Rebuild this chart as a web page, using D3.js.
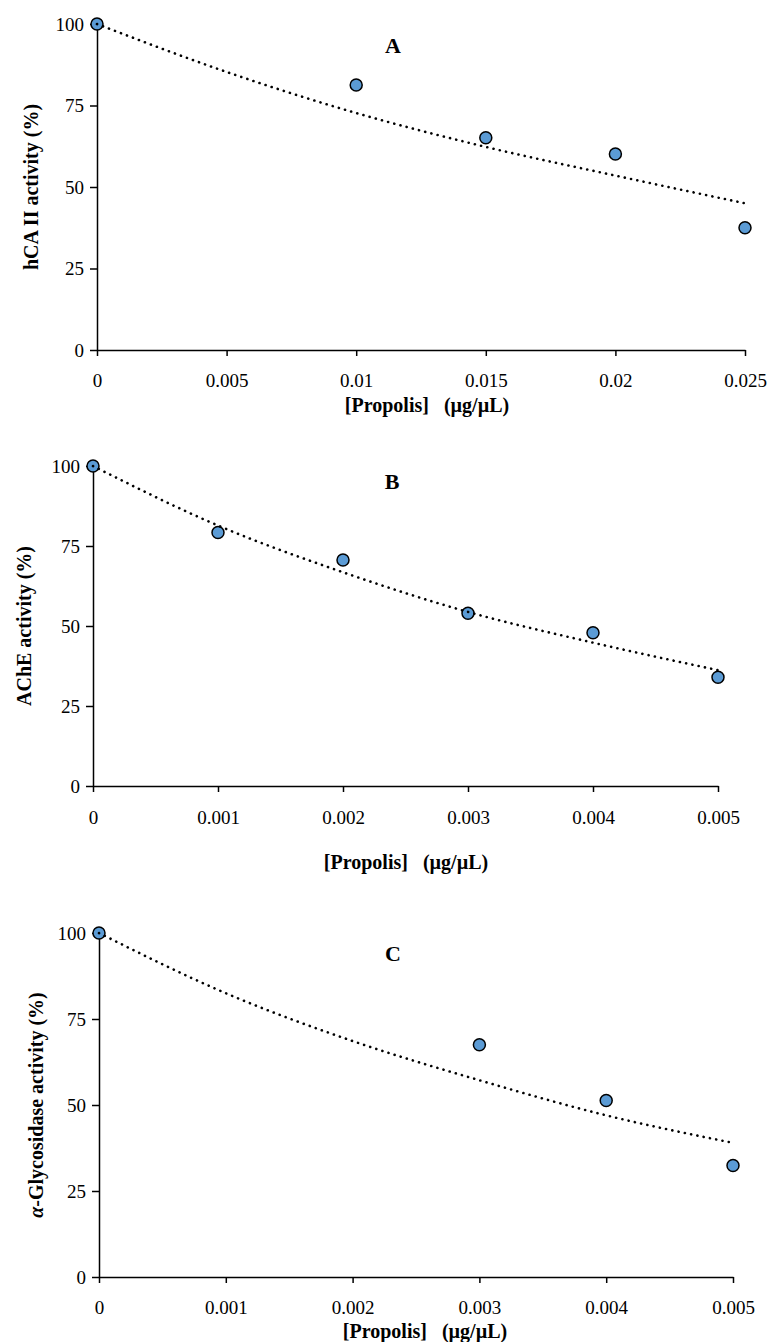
<!DOCTYPE html>
<html>
<head>
<meta charset="utf-8">
<script src="https://cdn.jsdelivr.net/npm/d3@7"></script>
<style>
  body { margin: 0; background: #fff; }
  svg { display: block; }
  text { font-family: 'Liberation Serif', 'Times New Roman', serif; fill: #000; }
</style>
</head>
<body>
<svg id="chart" width="768" height="1342"></svg>
<script>
// shared y axis
const yTicks = [0, 25, 50, 75, 100]
const yTickLabels = ['0', '25', '50', '75', '100']

// panel A: hCA II
const concA = [0, 0.01, 0.015, 0.02, 0.025]
const activityA = [100, 81.3, 65.1, 60.1, 37.5]
const trendConcA = [0, 0.005, 0.01, 0.015, 0.02, 0.025]
const trendA = [100, 85.3, 72.7, 62.3, 53.5, 45]
const xTicksA = [0, 0.005, 0.01, 0.015, 0.02, 0.025]
const xTickLabelsA = ['0', '0.005', '0.01', '0.015', '0.02', '0.025']

// panel B: AChE
const concB = [0, 0.001, 0.002, 0.003, 0.004, 0.005]
const activityB = [100, 79.2, 70.6, 54.0, 47.9, 34.0]
const trendConcB = [0, 0.001, 0.002, 0.003, 0.004, 0.005]
const trendB = [100, 81.4, 66.8, 54.4, 44.8, 36.2]
const xTicksB = [0, 0.001, 0.002, 0.003, 0.004, 0.005]
const xTickLabelsB = ['0', '0.001', '0.002', '0.003', '0.004', '0.005']

// panel C: alpha-glycosidase
const concC = [0, 0.003, 0.004, 0.005]
const activityC = [100, 67.5, 51.3, 32.4]
const trendConcC = [0, 0.001, 0.002, 0.003, 0.004, 0.005]
const trendC = [100, 82.5, 68.6, 57.2, 47, 39]
const xTicksC = [0, 0.001, 0.002, 0.003, 0.004, 0.005]
const xTickLabelsC = ['0', '0.001', '0.002', '0.003', '0.004', '0.005']

const xTitle = '[Propolis]   (\u00b5g/\u00b5L)'

// layout per panel (pixels)
const panels = [
  { tag: 'A', ylab: 'hCA II activity (%)', x: concA, y: activityA, tx: trendConcA, ty: trendA,
    ticks: xTicksA, tickLabels: xTickLabelsA,
    left: 97, right: 745, top: 24, bottom: 350, tagX: 393, tagY: 45,
    ylabX: 31, tickLabY: 380, titleY: 405, titleX: 427 },
  { tag: 'B', ylab: 'AChE activity (%)', x: concB, y: activityB, tx: trendConcB, ty: trendB,
    ticks: xTicksB, tickLabels: xTickLabelsB,
    left: 93, right: 718, top: 466, bottom: 786, tagX: 392, tagY: 481,
    ylabX: 24, tickLabY: 817, titleY: 862, titleX: 406 },
  { tag: 'C', ylab: null, x: concC, y: activityC, tx: trendConcC, ty: trendC,
    ticks: xTicksC, tickLabels: xTickLabelsC,
    left: 99, right: 733, top: 933, bottom: 1277, tagX: 393, tagY: 953,
    ylabX: 36, tickLabY: 1307, titleY: 1331, titleX: 425 }
]

const svg = d3.select('#chart')

panels.forEach(function (p) {
  const x = d3.scaleLinear()
    .domain([p.ticks[0], p.ticks[p.ticks.length - 1]])
    .range([p.left, p.right])
  const y = d3.scaleLinear()
    .domain([0, 100])
    .range([p.bottom, p.top])

  const g = svg.append('g')

  // x axis
  const xAxis = g.append('g')
    .attr('transform', `translate(0, ${p.bottom})`)
    .call(d3.axisBottom(x)
      .tickValues(p.ticks)
      .tickFormat(function (d, i) { return p.tickLabels[i] })
      .tickSize(6)
      .tickSizeOuter(0))
  xAxis.selectAll('text')
    .attr('y', null)
    .attr('dy', null)
    .attr('transform', `translate(0, ${p.tickLabY - p.bottom})`)
    .attr('dominant-baseline', 'central')
    .style('font-size', '19px')
    .style('font-family', "'Liberation Serif', serif")

  // y axis
  const yAxis = g.append('g')
    .attr('transform', `translate(${p.left}, 0)`)
    .call(d3.axisLeft(y)
      .tickValues(yTicks)
      .tickFormat(function (d, i) { return yTickLabels[i] })
      .tickSize(7)
      .tickPadding(6)
      .tickSizeOuter(0))
  yAxis.selectAll('text')
    .style('font-size', '19px')
    .style('font-family', "'Liberation Serif', serif")

  g.selectAll('.domain, .tick line')
    .attr('stroke', '#000')
    .attr('stroke-width', 1.5)

  // points
  g.selectAll('circle.pt')
    .data(p.x.map(function (d, i) { return [d, p.y[i]] }))
    .enter()
    .append('circle')
    .attr('class', 'pt')
    .attr('cx', function (d) { return x(d[0]) })
    .attr('cy', function (d) { return y(d[1]) })
    .attr('r', 6)
    .attr('fill', '#5b9bd5')
    .attr('stroke', '#000')
    .attr('stroke-width', 1.5)

  // dotted trend line
  const line = d3.line()
    .x(function (d) { return x(d[0]) })
    .y(function (d) { return y(d[1]) })
    .curve(d3.curveMonotoneX)
  g.append('path')
    .datum(p.tx.map(function (d, i) { return [d, p.ty[i]] }))
    .attr('d', line)
    .attr('fill', 'none')
    .attr('stroke', '#000')
    .attr('stroke-width', 2.6)
    .attr('stroke-linecap', 'round')
    .attr('stroke-dasharray', '0.1 6.3')

  // panel tag
  g.append('text')
    .attr('x', p.tagX)
    .attr('y', p.tagY)
    .attr('text-anchor', 'middle')
    .attr('dominant-baseline', 'central')
    .style('font-size', '22px')
    .style('font-weight', 'bold')
    .text(p.tag)

  // x title
  g.append('text')
    .attr('x', p.titleX)
    .attr('y', p.titleY)
    .attr('text-anchor', 'middle')
    .attr('dominant-baseline', 'central')
    .style('font-size', '20px')
    .style('font-weight', 'bold')
    .style('white-space', 'pre')
    .text(xTitle)

  // y title
  const cy = (p.top + p.bottom) / 2
  const yl = g.append('text')
    .attr('transform', `translate(${p.ylabX}, ${cy}) rotate(-90)`)
    .attr('text-anchor', 'middle')
    .attr('dominant-baseline', 'central')
    .style('font-size', '20px')
    .style('font-weight', 'bold')
  if (p.ylab) {
    yl.text(p.ylab)
  } else {
    yl.append('tspan').style('font-style', 'italic').text('\u03b1')
    yl.append('tspan').text('-Glycosidase activity (%)')
  }
})
</script>
</body>
</html>
